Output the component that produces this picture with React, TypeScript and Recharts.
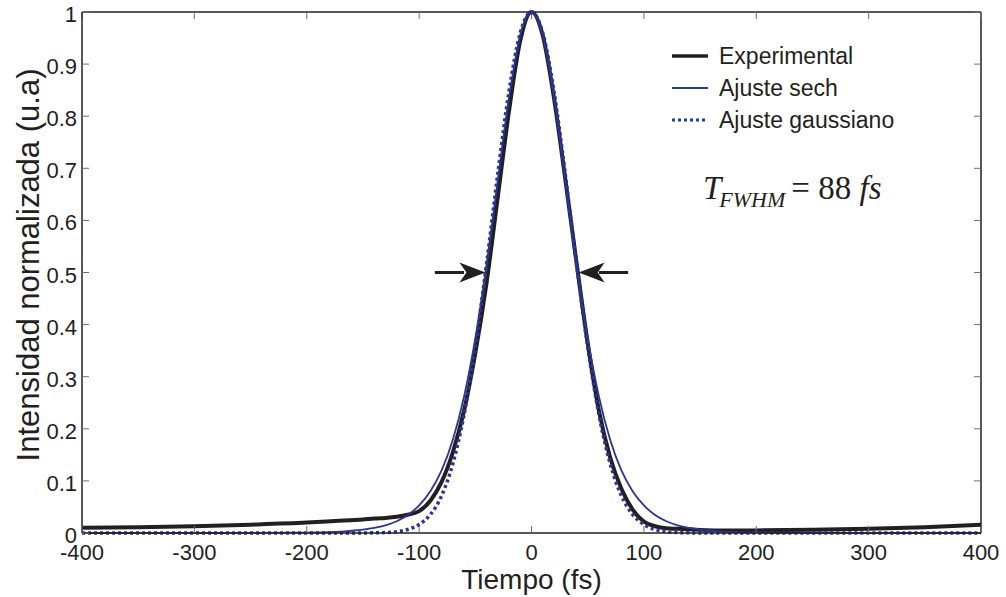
import React from 'react';
import { LineChart, Line, XAxis, YAxis, ReferenceLine, ReferenceDot } from 'recharts';

// tiempo (fs)
const tiempo = [
  -400, -350, -300, -250, -200, -175, -150, -140, -130, -120, -110, -100,
  -90, -80, -70, -60, -50, -40, -30, -20, -10,
  0,
  10, 20, 30, 40, 50, 60, 70, 80, 90,
  100, 110, 120, 130, 140, 150, 175, 200, 250, 300, 350, 400,
];

const experimental = [
  0.010, 0.011, 0.013, 0.016, 0.020, 0.023, 0.026, 0.028, 0.029, 0.031, 0.035, 0.042,
  0.062, 0.098, 0.155, 0.235, 0.345, 0.48, 0.645, 0.81, 0.945,
  1.0,
  0.955, 0.835, 0.68, 0.52, 0.365, 0.235, 0.145, 0.085, 0.045,
  0.022, 0.013, 0.009, 0.008, 0.007, 0.006, 0.005, 0.005, 0.006, 0.008, 0.011, 0.016,
];

const ajusteSech = [
  0, 0, 0, 0.0001, 0.0007, 0.0021, 0.0063, 0.0097, 0.0148, 0.0226, 0.0347, 0.0528,
  0.080, 0.120, 0.179, 0.262, 0.374, 0.515, 0.677, 0.836, 0.955,
  1.0,
  0.955, 0.836, 0.677, 0.515, 0.374, 0.262, 0.179, 0.120, 0.080,
  0.0528, 0.0347, 0.0226, 0.0148, 0.0097, 0.0063, 0.0021, 0.0007, 0.0001, 0, 0, 0,
];

const ajusteGauss = [
  0, 0, 0, 0, 0, 0, 0.0001, 0.0003, 0.0009, 0.0026, 0.0068, 0.0162,
  0.0354, 0.0714, 0.133, 0.227, 0.357, 0.517, 0.690, 0.848, 0.960,
  1.0,
  0.960, 0.848, 0.690, 0.517, 0.357, 0.227, 0.133, 0.0714, 0.0354,
  0.0162, 0.0068, 0.0026, 0.0009, 0.0003, 0.0001, 0, 0, 0, 0, 0, 0,
];

const xTicks = [-400, -300, -200, -100, 0, 100, 200, 300, 400];
const yTicks = [0, 0.1, 0.2, 0.3, 0.4, 0.5, 0.6, 0.7, 0.8, 0.9, 1];

const data = tiempo.map((t, i) => ({
  t,
  exp: experimental[i],
  sech: ajusteSech[i],
  gauss: ajusteGauss[i],
}));

const INK = '#231f20';
const BLUE = '#2b3595';
const TICK = '#6d6e71';
const SANS = '"Liberation Sans", Arial, sans-serif';
const SERIF = '"Liberation Serif", "Times New Roman", serif';

// inward tick length on the top / right frame, in data units (~7 px)
const TOP_TICK = 0.0135;
const RIGHT_TICK = 6.2;

const BottomTick = (props: any) => {
  const { x, y, payload } = props;
  return (
    <g>
      <line x1={x} x2={x} y1={y} y2={y - 7} stroke={TICK} strokeWidth={1} />
      <text x={x} y={y + 27} textAnchor="middle" fill={INK} fontSize={22} fontFamily={SANS}>
        {payload.value}
      </text>
    </g>
  );
};

const LeftTick = (props: any) => {
  const { x, y, payload } = props;
  return (
    <g>
      <line x1={x} x2={x + 7} y1={y} y2={y} stroke={TICK} strokeWidth={1} />
      <text x={x - 5} y={y + 10} textAnchor="end" fill={INK} fontSize={22} fontFamily={SANS}>
        {payload.value}
      </text>
    </g>
  );
};

const headRight = (p: any) => (
  <polygon
    points={`${p.cx},${p.cy} ${p.cx - 26},${p.cy - 10} ${p.cx - 19},${p.cy} ${p.cx - 26},${p.cy + 10}`}
    fill={INK}
  />
);

const headLeft = (p: any) => (
  <polygon
    points={`${p.cx},${p.cy} ${p.cx + 26},${p.cy - 10} ${p.cx + 19},${p.cy} ${p.cx + 26},${p.cy + 10}`}
    fill={INK}
  />
);

const legendRows = [
  { name: 'Experimental', color: INK, width: 3.5, dash: undefined as string | undefined },
  { name: 'Ajuste sech', color: BLUE, width: 1.8, dash: undefined },
  { name: 'Ajuste gaussiano', color: BLUE, width: 3, dash: '3 3' },
];

export default function App() {
  return (
    <div style={{ position: 'absolute', left: 0, top: 0, width: 1006, height: 597, background: '#fff' }}>
      <LineChart
        width={1006}
        height={597}
        data={data}
        margin={{ top: 12, right: 25, bottom: 24, left: 22 }}
      >
        <XAxis
          dataKey="t"
          type="number"
          domain={[-400, 400]}
          ticks={xTicks}
          height={40}
          tickSize={0}
          tickMargin={0}
          stroke={INK}
          strokeWidth={1.5}
          tick={<BottomTick />}
          label={{
            content: (p: any) => (
              <text
                x={p.viewBox.x + p.viewBox.width / 2}
                y={p.viewBox.y + 56}
                textAnchor="middle"
                fill={INK}
                fontSize={28}
                fontFamily={SANS}
              >
                Tiempo (fs)
              </text>
            ),
          }}
        />
        <YAxis
          type="number"
          domain={[0, 1]}
          ticks={yTicks}
          width={60}
          tickSize={0}
          tickMargin={0}
          stroke={INK}
          strokeWidth={1.5}
          tick={<LeftTick />}
          label={{
            content: () => (
              <text
                x={39}
                y={265}
                transform="rotate(-90 39 265)"
                textAnchor="middle"
                fill={INK}
                fontSize={31}
                fontFamily={SANS}
              >
                Intensidad normalizada (u.a)
              </text>
            ),
          }}
        />

        {/* top and right frame with inward ticks */}
        <ReferenceLine y={1} stroke={INK} strokeWidth={1.5} />
        <ReferenceLine x={400} stroke={INK} strokeWidth={1.5} />
        {xTicks.map((t) => (
          <ReferenceLine
            key={'tt' + t}
            segment={[{ x: t, y: 1 }, { x: t, y: 1 - TOP_TICK }]}
            stroke={TICK}
            strokeWidth={1}
          />
        ))}
        {yTicks.map((v) => (
          <ReferenceLine
            key={'rt' + v}
            segment={[{ x: 400, y: v }, { x: 400 - RIGHT_TICK, y: v }]}
            stroke={TICK}
            strokeWidth={1}
          />
        ))}

        <Line
          type="monotone"
          dataKey="exp"
          stroke={INK}
          strokeWidth={4}
          dot={false}
          isAnimationActive={false}
        />
        <Line
          type="monotone"
          dataKey="sech"
          stroke={BLUE}
          strokeWidth={1.8}
          dot={false}
          isAnimationActive={false}
        />
        <Line
          type="monotone"
          dataKey="gauss"
          stroke={BLUE}
          strokeWidth={3.5}
          strokeDasharray="3 3"
          dot={false}
          isAnimationActive={false}
        />
        <ReferenceLine
          segment={[{ x: -86, y: 0.5 }, { x: -60, y: 0.5 }]}
          stroke={INK}
          strokeWidth={3}
        />
        <ReferenceDot x={-41} y={0.5} r={10} shape={headRight} />
        <ReferenceLine
          segment={[{ x: 86, y: 0.5 }, { x: 60, y: 0.5 }]}
          stroke={INK}
          strokeWidth={3}
        />
        <ReferenceDot x={42} y={0.5} r={10} shape={headLeft} />
      </LineChart>

      {legendRows.map((row, i) => (
        <div key={row.name} style={{ position: 'absolute', left: 672, top: 56 + i * 32 - 14, height: 28 }}>
          <svg width={40} height={28} style={{ position: 'absolute', left: 0, top: 0 }}>
            <line
              x1={0}
              x2={36}
              y1={14}
              y2={14}
              stroke={row.color}
              strokeWidth={row.width}
              strokeDasharray={row.dash}
            />
          </svg>
          <span
            style={{
              position: 'absolute',
              left: 47,
              top: 0,
              lineHeight: '28px',
              fontSize: 23,
              fontFamily: SANS,
              color: INK,
              whiteSpace: 'nowrap',
            }}
          >
            {row.name}
          </span>
        </div>
      ))}

      <div
        style={{
          position: 'absolute',
          left: 703,
          top: 168,
          fontFamily: SERIF,
          color: INK,
          fontSize: 33,
          whiteSpace: 'nowrap',
          lineHeight: '40px',
        }}
      >
        <i>T</i>
        <i style={{ fontSize: 22, position: 'relative', top: 8, marginLeft: -2 }}>FWHM</i>
        <span style={{ marginLeft: 6 }}>= 88 </span>
        <i>fs</i>
      </div>
    </div>
  );
}
